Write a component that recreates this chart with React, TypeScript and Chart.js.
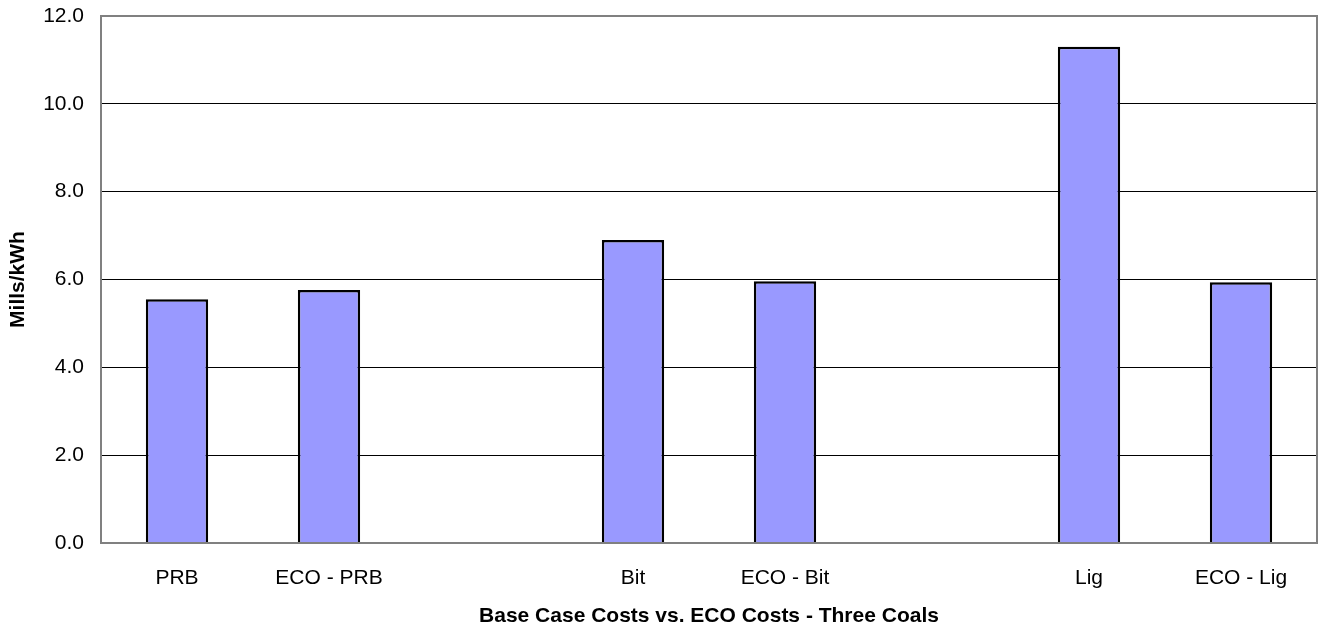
import React, { useEffect, useRef } from "react";
import { Chart, registerables } from "chart.js";

Chart.register(...registerables);

// Categories (blank entries separate the three coal groups)
const categories: string[] = ["PRB", "ECO - PRB", "", "Bit", "ECO - Bit", "", "Lig", "ECO - Lig"];
// Levelized cost, Mills/kWh
const costValues: (number | null)[] = [5.55, 5.76, null, 6.9, 5.96, null, 11.3, 5.94];

const yTitle = "Mills/kWh";
const xTitle = "Base Case Costs vs. ECO Costs - Three Coals";

const FONT = "'Liberation Sans', Arial, Helvetica, sans-serif";

// Grey frame drawn around the plot area
const framePlugin = {
  id: "plotFrame",
  afterDraw(chart: any) {
    const { ctx, chartArea } = chart;
    ctx.save();
    ctx.strokeStyle = "#808080";
    ctx.lineWidth = 2;
    ctx.strokeRect(chartArea.left, chartArea.top, chartArea.right - chartArea.left, chartArea.bottom - chartArea.top);
    ctx.restore();
  },
};

export default function App() {
  const canvasRef = useRef<HTMLCanvasElement | null>(null);

  useEffect(() => {
    if (!canvasRef.current) return;
    const chart = new Chart(canvasRef.current, {
      type: "bar",
      data: {
        labels: categories,
        datasets: [
          {
            data: costValues,
            backgroundColor: "#9999FF",
            borderColor: "#000000",
            borderWidth: 2.5,
            barPercentage: 0.41,
            categoryPercentage: 1,
          },
        ],
      },
      options: {
        animation: false,
        responsive: false,
        maintainAspectRatio: false,
        layout: { padding: { top: 16, right: 5, left: 0, bottom: 0 } },
        plugins: {
          legend: { display: false },
          tooltip: { enabled: false },
        },
        scales: {
          x: {
            grid: { display: false, drawTicks: false },
            border: { display: false },
            ticks: {
              color: "#000",
              padding: 23,
              font: { family: FONT, size: 21 },
              maxRotation: 0,
              autoSkip: false,
            },
            title: {
              display: true,
              text: xTitle,
              color: "#000",
              font: { family: FONT, size: 21, weight: "bold" },
              padding: { top: 0, bottom: 2 },
            },
            afterFit(scale: any) {
              scale.height = 88;
              scale.paddingLeft = 0;
              scale.paddingRight = 0;
            },
          },
          y: {
            min: 0,
            max: 12,
            grid: {
              drawTicks: false,
              lineWidth: 1,
              color: (ctx: any) =>
                ctx.tick && (ctx.tick.value === 0 || ctx.tick.value === 12) ? "rgba(0,0,0,0)" : "#000",
            },
            border: { display: false },
            ticks: {
              stepSize: 2,
              color: "#000",
              padding: 17,
              font: { family: FONT, size: 21 },
              callback: (v: any) => Number(v).toFixed(1),
            },
            title: {
              display: true,
              text: yTitle,
              color: "#000",
              font: { family: FONT, size: 21, weight: "bold" },
              padding: { top: 6, bottom: 0 },
            },
            afterFit(scale: any) {
              scale.width = 101;
              scale.paddingTop = 0;
              scale.paddingBottom = 0;
            },
          },
        },
      },
      plugins: [framePlugin],
    });
    return () => chart.destroy();
  }, []);

  return (
    <div style={{ position: "fixed", left: 0, top: 0, width: 1322, height: 631, background: "#fff" }}>
      <canvas ref={canvasRef} width={1322} height={631} style={{ display: "block" }} />
    </div>
  );
}
